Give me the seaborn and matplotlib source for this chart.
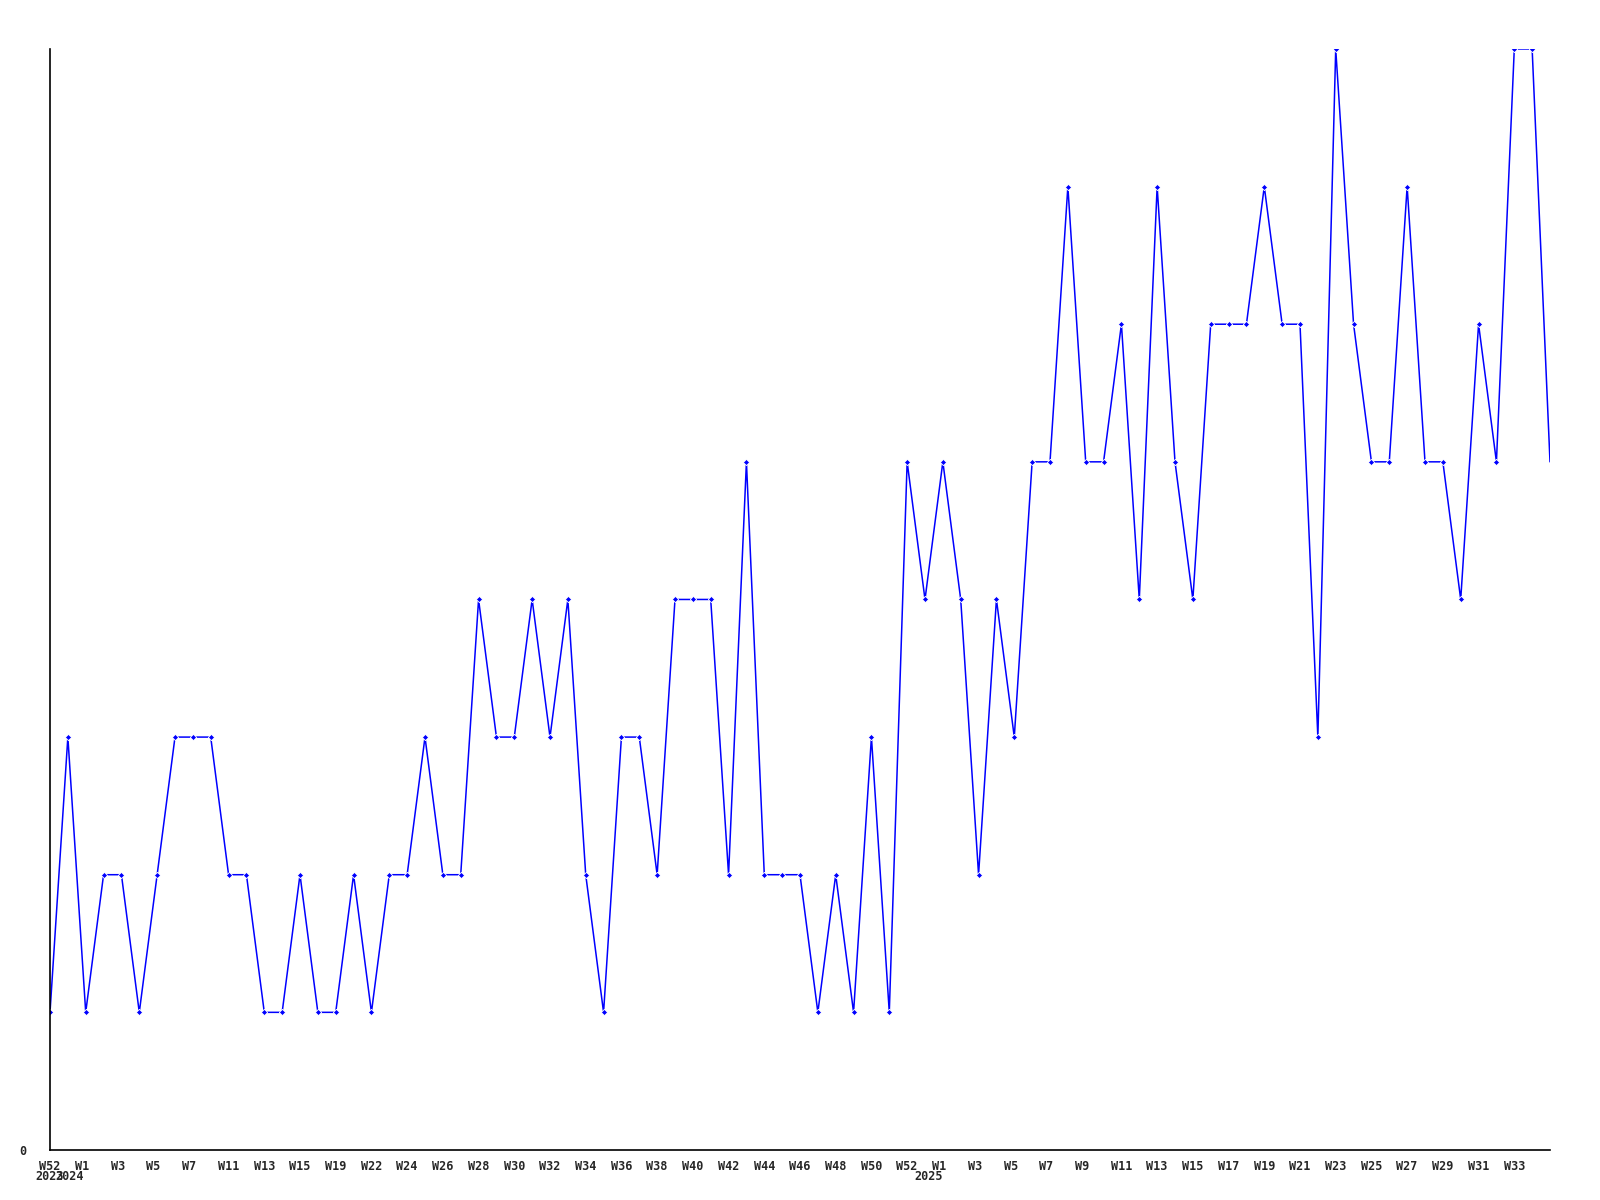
import numpy as np
import pandas as pd
import matplotlib
matplotlib.use("Agg")
import matplotlib.pyplot as plt
import seaborn as sns

# weekly counts, one point per week that has data (oldest first)
counts = [1, 3, 1, 2, 2, 1, 2, 3, 3, 3,
          2, 2, 1, 1, 2, 1, 1, 2, 1, 2,
          2, 3, 2, 2, 4, 3, 3, 4, 3, 4,
          2, 1, 3, 3, 2, 4, 4, 4, 2, 5,
          2, 2, 2, 1, 2, 1, 3, 1, 5, 4,
          5, 4, 2, 4, 3, 5, 5, 7, 5, 5,
          6, 4, 7, 5, 4, 6, 6, 6, 7, 6,
          6, 3, 8, 6, 5, 5, 7, 5, 5, 4,
          6, 5, 8, 8, 5]

# x tick labels (every second point)
week_labels = ["W52", "W1", "W3", "W5", "W7", "W11", "W13", "W15", "W19", "W22",
               "W24", "W26", "W28", "W30", "W32", "W34", "W36", "W38", "W40", "W42",
               "W44", "W46", "W48", "W50", "W52", "W1", "W3", "W5", "W7", "W9",
               "W11", "W13", "W15", "W17", "W19", "W21", "W23", "W25", "W27", "W29",
               "W31", "W33"]

# year labels and the point they sit under
years = ["2023", "2024", "2025"]
year_pos = [0, 1.1, 49.2]

df = pd.DataFrame({"idx": np.arange(len(counts)), "count": counts})

sns.set_style("white")
plt.rcParams['font.family'] = ['DejaVu Sans Mono']

fig = plt.figure(figsize=(16, 12), dpi=100)
ax = fig.add_axes([0.03125, 0.0417, 0.9375, 0.9175])

sns.lineplot(data=df, x="idx", y="count", ax=ax, color="#0000ff", linewidth=1.1,
             marker="D", markersize=3.2, markeredgewidth=0.6,
             markevery=list(range(len(counts) - 1)), sort=False)

ax.set_xlim(0, len(counts) - 1)
ax.set_ylim(0, 8)

ax.set_xticks(np.arange(0, 2 * len(week_labels), 2))
ax.set_xticklabels([f"{w:<3}" for w in week_labels], fontsize=8.5, fontweight="bold")
ax.set_yticks([0])
ax.set_yticklabels(["0"], fontsize=8.5, fontweight="bold")
ax.tick_params(axis="both", length=0)
ax.tick_params(axis="x", pad=7)
ax.tick_params(axis="y", pad=17)

for yr, pos in zip(years, year_pos):
    ax.annotate(yr, xy=(pos, 0), xycoords=("data", "axes fraction"),
                xytext=(0, -27), textcoords="offset pixels",
                ha="center", va="center", fontsize=8.5, fontweight="bold")

ax.set_xlabel("")
ax.set_ylabel("")
for side in ["top", "right"]:
    ax.spines[side].set_visible(False)
for side in ["left", "bottom"]:
    ax.spines[side].set_color("black")
    ax.spines[side].set_linewidth(1.2)

fig.savefig("out.png", dpi=100)
